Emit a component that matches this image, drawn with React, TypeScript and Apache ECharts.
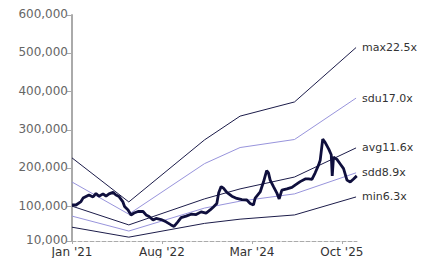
import React, { useEffect, useRef } from "react";
import * as echarts from "echarts";

// x values are months since Jan 2021
const bandMonths = [0, 12, 28, 35.5, 47, 60];
const maxBand = [227000, 112000, 274000, 336000, 373000, 515000];
const sduBand = [164000, 80000, 212000, 254000, 275000, 383000];
const avgBand = [101000, 52000, 120000, 146000, 177000, 253000];
const sddBand = [75000, 36000, 96000, 114000, 133000, 188000];
const minBand = [46000, 20000, 56000, 67000, 78000, 125000];

const priceMonths = [
  0, 0.85, 1.9, 2.33, 2.96, 3.59, 4.44, 5.07, 5.71, 6.55, 7.19, 7.82, 8.67, 9.3, 9.94,
  10.72, 11.1, 11.84, 12.47, 13.11, 13.95, 15.01, 15.64, 16.28, 17.12, 17.76, 18.82,
  19.87, 20.93, 21.56, 22.35, 23.04, 24.1, 25.16, 26.22, 27.27, 28.33, 29.18, 29.87,
  30.59, 30.97, 31.5, 31.99, 32.71, 33.76, 34.82, 35.88, 36.93, 37.63, 38.33, 38.69,
  39.75, 40.44, 41.12, 41.5, 41.86, 42.56, 43.28, 43.76, 44.33, 45.39, 46.45, 47.5,
  48.2, 49.26, 49.96, 50.68, 51.37, 52.07, 52.43, 52.96, 53.49, 54.23, 54.76, 54.97,
  55.24, 55.96, 56.66, 57.36, 58.08, 58.77, 59.47, 60.15,
];
const priceValues = [
  104000, 104000, 113000, 122000, 126000, 130000, 125000, 134000, 127000, 133000, 127000,
  133000, 137000, 130000, 126000, 113000, 100000, 91000, 78000, 83000, 87000, 87000, 78000,
  74000, 65000, 69000, 66000, 60000, 52000, 48000, 60000, 71000, 75000, 80000, 79000, 86000,
  83000, 91000, 99000, 108000, 135000, 152000, 148000, 137000, 127000, 121000, 118000, 117000,
  108000, 104000, 122000, 138000, 164000, 194000, 188000, 169000, 152000, 135000, 120000,
  143000, 146000, 150000, 159000, 165000, 172000, 172000, 171000, 188000, 208000, 221000,
  276000, 267000, 250000, 235000, 180000, 229000, 223000, 211000, 199000, 169000, 164000,
  172000, 180000,
];

const yTicks = [10000, 100000, 200000, 300000, 400000, 500000, 600000];
const xTickMonths = [0, 19, 38, 57];
const xTickLabels = ["Jan '21", "Aug '22", "Mar '24", "Oct '25"];

const bandNames = ["max22.5x", "sdu17.0x", "avg11.6x", "sdd8.9x", "min6.3x"];

const FONT = "DejaVu Sans";

export default function App() {
  const ref = useRef<HTMLDivElement>(null);
  useEffect(() => {
    document.body.style.margin = "0";
    const chart = echarts.init(ref.current!, null, { renderer: "svg" });
    const dark = "#1c1c4a";
    const purple = "#9894dc";
    const bands = [maxBand, sduBand, avgBand, sddBand, minBand];
    const colors = [dark, purple, dark, purple, dark];
    const bandSeries = bands.map((arr, i) => ({
      type: "line",
      name: bandNames[i],
      data: bandMonths.map((m, j) => [m, arr[j]]),
      showSymbol: false,
      symbol: "none",
      lineStyle: { color: colors[i], width: 1 },
      endLabel: {
        show: true,
        formatter: bandNames[i],
        color: "#333",
        fontFamily: FONT,
        fontSize: 11,
        distance: 6,
      },
      z: 2,
    }));
    chart.setOption({
      animation: false,
      grid: { left: 72, right: 66, top: 15, bottom: 17, containLabel: false },
      xAxis: {
        type: "value",
        min: 0,
        max: 60.2,
        axisLine: { show: true, lineStyle: { color: "#aaa", type: "dashed", width: 1 } },
        axisTick: { show: true, customValues: xTickMonths, length: 3, lineStyle: { color: "#aaa" } },
        axisLabel: {
          customValues: xTickMonths,
          formatter: (v: number) => {
            const i = xTickMonths.indexOf(Math.round(v));
            return i >= 0 ? xTickLabels[i] : "";
          },
          color: "#333",
          fontFamily: FONT,
          fontSize: 12,
          margin: 5,
        },
        splitLine: { show: false },
      },
      yAxis: {
        type: "value",
        min: 10000,
        max: 600000,
        axisLine: { show: true, lineStyle: { color: "#aaa", width: 2 } },
        axisTick: { show: true, customValues: yTicks, length: 5, lineStyle: { color: "#aaa" } },
        axisLabel: {
          customValues: yTicks,
          formatter: (v: number) => v.toLocaleString("en-US"),
          color: "#666",
          fontFamily: FONT,
          fontSize: 12,
          margin: 4,
          verticalAlign: "bottom",
          lineHeight: 12,
          padding: [0, 0, -5, 0],
        },
        splitLine: { show: false },
      },
      series: [
        ...bandSeries,
        {
          type: "line",
          name: "price",
          data: priceMonths.map((m, j) => [m, priceValues[j]]),
          showSymbol: false,
          symbol: "none",
          lineStyle: { color: "#0f0f3d", width: 2.8 },
          z: 3,
        },
      ],
    });
    return () => chart.dispose();
  }, []);
  return <div ref={ref} style={{ width: 423, height: 258 }} />;
}
